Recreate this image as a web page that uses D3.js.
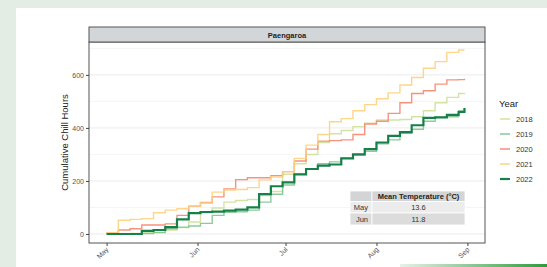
<!DOCTYPE html>
<html>
<head>
<meta charset="utf-8">
<script src="https://cdn.jsdelivr.net/npm/d3@7"></script>
<style>
  body { margin: 0; background: #e3ede3; }
  svg { display: block; font-family: "Liberation Sans", Arial, sans-serif; }
</style>
</head>
<body>
<svg id="chart"></svg>
<script>
(function(){

// days since 1 May
var days = [0,4,8,12,16,20,24,28,32,36,40,44,48,52,56,60,64,68,72,76,80,84,88,92,96,100,104,108,112,116,120,122];

var y2018 = [0,0,2,4,6,15,24,45,80,98,120,126,130,145,160,225,265,300,345,378,390,405,418,430,430,432,442,465,495,515,530,532];
var y2019 = [0,0,0,2,5,20,26,30,40,70,82,84,90,120,150,185,225,245,265,272,285,298,312,340,355,380,395,425,440,442,465,475];
var y2020 = [5,15,20,34,34,38,70,105,118,140,170,205,212,212,220,235,275,320,350,352,355,375,415,425,455,495,530,540,565,581,582,585];
var y2021 = [5,52,55,58,80,90,95,105,120,158,166,168,175,204,215,235,285,335,375,423,435,465,488,510,532,562,590,625,650,685,694,694];
var y2022 = [0,0,0,12,15,26,55,79,83,84,88,92,100,150,180,195,225,245,258,262,285,300,320,345,370,384,410,438,440,449,460,475];

var years = ["2018","2019","2020","2021","2022"];
var colors = ["#cfe09a","#7fc58f","#f5876f","#fdd27e","#17804a"];
var seriesValues = [y2018, y2019, y2020, y2021, y2022];

var monthLabels = ["May","Jun","Jul","Aug","Sep"];
var monthDays = [0,31,61,92,123];
var yTicks = [0,200,400,600];

var tableHeader = "Mean Temperature (°C)";
var tableMonths = ["May","Jun"];
var tableTemps = ["13.6","11.8"];

var W = 547, H = 267;
var svg = d3.select("#chart").attr("width", W).attr("height", H);

// white card
svg.append("rect").attr("x", 16).attr("y", 8).attr("width", W - 16).attr("height", H - 8).attr("fill", "#fff");

// green accent bar bottom right
var grad = svg.append("defs").append("linearGradient").attr("id", "gbar");
grad.append("stop").attr("offset", "0%").attr("stop-color", "#e6f2e6");
grad.append("stop").attr("offset", "100%").attr("stop-color", "#2e9a3e");
svg.append("rect").attr("x", 400).attr("y", 264).attr("width", 147).attr("height", 3).attr("fill", "url(#gbar)");

var panel = {left: 89, right: 485, top: 42, bottom: 243};

var x = d3.scaleLinear().domain([-6, 129]).range([panel.left, panel.right]);
var y = d3.scaleLinear().domain([-34, 724]).range([panel.bottom, panel.top]);

var g = svg.append("g");

// grid
g.selectAll("line.minor").data([100,300,500,700]).enter().append("line")
  .attr("x1", panel.left).attr("x2", panel.right)
  .attr("y1", function(d){ return y(d); }).attr("y2", function(d){ return y(d); })
  .attr("stroke", "#f3f3f3").attr("stroke-width", 0.8);
g.selectAll("line.major").data(yTicks).enter().append("line")
  .attr("x1", panel.left).attr("x2", panel.right)
  .attr("y1", function(d){ return y(d); }).attr("y2", function(d){ return y(d); })
  .attr("stroke", "#ebebeb").attr("stroke-width", 1);

// lines (cumulative hours step up)
var line = d3.line()
  .curve(d3.curveStepAfter)
  .x(function(d){ return x(d[0]); })
  .y(function(d){ return y(d[1]); });

years.forEach(function(yr, i){
  var pts = days.map(function(d, j){ return [d, seriesValues[i][j]]; });
  g.append("path")
    .datum(pts)
    .attr("d", line)
    .attr("fill", "none")
    .attr("stroke", colors[i])
    .attr("stroke-width", yr === "2022" ? 2.2 : 1.4)
    .attr("stroke-opacity", yr === "2022" ? 1 : 0.9);
});

// table
var tx = 350, tc = 372, tr = 465, rowH = [191, 201.5, 213, 225];
var rowFill = ["#d2d4d6", "#ececec", "#dcdcdc"];
for (var r = 0; r < 3; r++) {
  g.append("rect").attr("x", tx).attr("y", rowH[r]).attr("width", tc - tx).attr("height", rowH[r+1] - rowH[r])
    .attr("fill", rowFill[r]).attr("stroke", "#fff").attr("stroke-width", 0.8);
  g.append("rect").attr("x", tc).attr("y", rowH[r]).attr("width", tr - tc).attr("height", rowH[r+1] - rowH[r])
    .attr("fill", rowFill[r]).attr("stroke", "#fff").attr("stroke-width", 0.8);
}
g.append("text").attr("x", (tc + tr) / 2).attr("y", rowH[0] + 8).attr("text-anchor", "middle")
  .attr("font-size", 7.5).attr("font-weight", "bold").attr("fill", "#222").text(tableHeader);
tableMonths.forEach(function(m, i){
  g.append("text").attr("x", tc - 4).attr("y", rowH[i+1] + 8.5).attr("text-anchor", "end")
    .attr("font-size", 7.5).attr("fill", "#333").text(m);
  g.append("text").attr("x", (tc + tr) / 2).attr("y", rowH[i+1] + 8.5).attr("text-anchor", "middle")
    .attr("font-size", 7.5).attr("fill", "#333").text(tableTemps[i]);
});

// panel border
svg.append("rect").attr("x", panel.left).attr("y", panel.top)
  .attr("width", panel.right - panel.left).attr("height", panel.bottom - panel.top)
  .attr("fill", "none").attr("stroke", "#555").attr("stroke-width", 1);

// strip
svg.append("rect").attr("x", panel.left).attr("y", 27)
  .attr("width", panel.right - panel.left).attr("height", panel.top - 27)
  .attr("fill", "#d3d6d9").attr("stroke", "#555").attr("stroke-width", 1);
svg.append("text").attr("x", (panel.left + panel.right) / 2).attr("y", 37.5)
  .attr("text-anchor", "middle").attr("font-size", 7.5).attr("font-weight", "bold")
  .attr("fill", "#222").text("Paengaroa");

// axes
var yAxis = d3.axisLeft(y).tickValues(yTicks).tickSize(3).tickPadding(2);
var ya = svg.append("g").attr("transform", "translate(" + panel.left + ",0)").call(yAxis);
ya.select(".domain").remove();
ya.selectAll("line").attr("stroke", "#444");
ya.selectAll("text").attr("font-size", 7).attr("fill", "#555").attr("font-family", "Liberation Sans, Arial, sans-serif");

var xAxis = d3.axisBottom(x).tickValues(monthDays).tickSize(3)
  .tickFormat(function(d, i){ return monthLabels[i]; });
var xa = svg.append("g").attr("transform", "translate(0," + panel.bottom + ")").call(xAxis);
xa.select(".domain").remove();
xa.selectAll("line").attr("stroke", "#444");
xa.selectAll("text")
  .attr("font-size", 7).attr("fill", "#555").attr("font-family", "Liberation Sans, Arial, sans-serif")
  .attr("text-anchor", "end").attr("dy", null).attr("y", 0)
  .attr("transform", "translate(2,7) rotate(-45)");

svg.append("text")
  .attr("transform", "translate(68," + ((panel.top + panel.bottom) / 2) + ") rotate(-90)")
  .attr("text-anchor", "middle").attr("font-size", 9.5).attr("fill", "#222")
  .text("Cumulative Chill Hours");

// legend
var lg = svg.append("g");
lg.append("text").attr("x", 499).attr("y", 107).attr("font-size", 9.5).attr("fill", "#222").text("Year");
years.forEach(function(yr, i){
  var yy = 119 + i * 15;
  lg.append("line").attr("x1", 500).attr("x2", 510).attr("y1", yy).attr("y2", yy)
    .attr("stroke", colors[i]).attr("stroke-width", yr === "2022" ? 2.2 : 1.4);
  lg.append("text").attr("x", 516).attr("y", yy + 2.5).attr("font-size", 7.5).attr("fill", "#333").text(yr);
});

})();
</script>
</body>
</html>
